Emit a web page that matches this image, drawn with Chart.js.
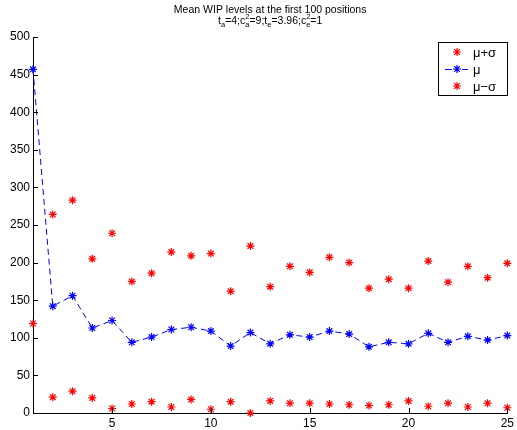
<!DOCTYPE html>
<html>
<head>
<meta charset="utf-8">
<script src="https://cdn.jsdelivr.net/npm/chart.js@4"></script>
<style>
  body { margin: 0; background: #fff; }
</style>
</head>
<body>
<canvas id="graph" width="517" height="430"></canvas>
<script>
// Data
const positions = [1, 2, 3, 4, 5, 6, 7, 8, 9, 10, 11, 12, 13, 14, 15, 16, 17, 18, 19, 20, 21, 22, 23, 24, 25];
const meanWip = [457, 142, 156, 113, 123, 94, 101, 111, 114, 109, 89, 107, 92, 104, 101, 109, 105, 88, 94, 92, 106, 94, 102, 97, 103];
const upperWip = [null, 264, 283, 205, 239, 175, 186, 214, 209, 212, 162, 222, 168, 195, 187, 207, 200, 166, 178, 166, 202, 174, 195, 180, 199];
const lowerWip = [119, 21, 29, 20, 6, 12, 15, 8, 18, 5, 15, 0, 16, 13, 13, 12, 11, 10, 11, 16, 9, 13, 8, 13, 7];
const xTicks = [5, 10, 15, 20, 25];
const yTicks = [0, 50, 100, 150, 200, 250, 300, 350, 400, 450, 500];

const toPoints = arr => positions.map((p, i) => ({ x: p, y: arr[i] }));

const FONT = 'Arial, "Liberation Sans", Helvetica, sans-serif';

// Title with sub/superscripts
const titlePlugin = {
  id: 'matlabTitle',
  afterDraw(chart) {
    const ctx = chart.ctx;
    const cx = (chart.chartArea.left + chart.chartArea.right) / 2;
    ctx.save();
    ctx.fillStyle = '#000';
    ctx.textBaseline = 'alphabetic';
    ctx.font = '10.5px ' + FONT;
    ctx.textAlign = 'center';
    ctx.fillText('Mean WIP levels at the first 100 positions', cx, 13);

    const parts = [
      ['t'], ['a', 'sub'], ['=4;c'], ['2', 'both', 'a'], ['=9;t'], ['e', 'sub'],
      ['=3.96;c'], ['2', 'both', 'e'], ['=1']
    ];
    const big = '10.5px ' + FONT, small = '7.5px ' + FONT;
    const widthOf = p => {
      if (!p[1]) { ctx.font = big; return ctx.measureText(p[0]).width; }
      ctx.font = small;
      if (p[1] === 'both') return Math.max(ctx.measureText(p[0]).width, ctx.measureText(p[2]).width);
      return ctx.measureText(p[0]).width;
    };
    const total = parts.reduce((s, p) => s + widthOf(p), 0);
    let x = cx - total / 2;
    const base = 24;
    ctx.textAlign = 'left';
    parts.forEach(p => {
      const w = widthOf(p);
      if (!p[1]) {
        ctx.font = big;
        ctx.fillText(p[0], x, base);
      } else if (p[1] === 'sub') {
        ctx.font = small;
        ctx.fillText(p[0], x, base + 3);
      } else {
        ctx.font = small;
        ctx.fillText(p[0], x, base - 5);
        ctx.fillText(p[2], x, base + 3);
      }
      x += w;
    });
    ctx.restore();
  }
};

// Inward tick marks and boxed legend
const axisPlugin = {
  id: 'matlabAxes',
  afterDraw(chart) {
    const ctx = chart.ctx;
    const { left, bottom } = chart.chartArea;
    const xs = chart.scales.x, ys = chart.scales.y;
    ctx.save();
    ctx.strokeStyle = '#000';
    ctx.lineWidth = 1;
    ctx.beginPath();
    yTicks.forEach(v => {
      const y = Math.round(ys.getPixelForValue(v)) + 0.5;
      ctx.moveTo(left, y);
      ctx.lineTo(left + 5, y);
    });
    xTicks.forEach(v => {
      const x = Math.round(xs.getPixelForValue(v)) + 0.5;
      ctx.moveTo(x, bottom);
      ctx.lineTo(x, bottom - 5);
    });
    ctx.stroke();

    // legend
    const bx = 438.5, by = 42.5, bw = 69, bh = 53;
    ctx.fillStyle = '#fff';
    ctx.fillRect(bx, by, bw, bh);
    ctx.strokeRect(bx, by, bw, bh);
    const rows = [52, 69, 86];
    ctx.font = '13px ' + FONT;
    ctx.textBaseline = 'middle';
    ctx.textAlign = 'left';
    chart.data.datasets.forEach((ds, i) => {
      const y = rows[i];
      if (ds.showLine) {
        ctx.save();
        ctx.strokeStyle = ds.borderColor;
        ctx.lineWidth = 1;
        ctx.beginPath();
        ctx.moveTo(445, y + 0.5);
        ctx.lineTo(452, y + 0.5);
        ctx.moveTo(462, y + 0.5);
        ctx.lineTo(468, y + 0.5);
        ctx.stroke();
        ctx.restore();
      }
      ctx.save();
      ctx.lineWidth = 1.2;
      ctx.strokeStyle = ds.pointBorderColor;
      Chart.helpers.drawPoint(ctx, { pointStyle: 'star', radius: 4, borderWidth: 1.2 }, 457, y);
      ctx.restore();
      ctx.fillStyle = '#000';
      ctx.fillText(ds.label, 473, y + 1);
    });
    ctx.restore();
  }
};

const ctx = document.getElementById('graph').getContext('2d');
const chart = new Chart(ctx, {
  type: 'line',
  data: {
    datasets: [{
      label: 'μ+σ',
      data: toPoints(upperWip),
      showLine: false,
      clip: false,
      borderColor: '#ff0000',
      pointStyle: 'star',
      pointRadius: 4,
      pointBorderWidth: 1.2,
      pointBorderColor: '#ff0000'
    }, {
      label: 'μ',
      data: toPoints(meanWip),
      showLine: true,
      clip: false,
      borderColor: '#0000ff',
      borderWidth: 1,
      borderDash: [6, 4],
      pointStyle: 'star',
      pointRadius: 4,
      pointBorderWidth: 1.2,
      pointBorderColor: '#0000ff'
    }, {
      label: 'μ−σ',
      data: toPoints(lowerWip),
      showLine: false,
      clip: false,
      borderColor: '#ff0000',
      pointStyle: 'star',
      pointRadius: 4,
      pointBorderWidth: 1.2,
      pointBorderColor: '#ff0000'
    }]
  },
  options: {
    responsive: false,
    animation: false,
    devicePixelRatio: 1,
    layout: { padding: { top: 37, right: 6, left: 0, bottom: 0 } },
    scales: {
      x: {
        type: 'linear',
        min: 1,
        max: 25,
        afterBuildTicks: scale => { scale.ticks = xTicks.map(v => ({ value: v })); },
        afterFit: scale => { scale.height = 17; },
        grid: { display: true, drawOnChartArea: false, drawTicks: false },
        border: { display: true, color: '#000', width: 1 },
        ticks: { color: '#000', font: { size: 12, family: FONT }, padding: 3, maxRotation: 0 }
      },
      y: {
        min: 0,
        max: 500,
        afterBuildTicks: scale => { scale.ticks = yTicks.map(v => ({ value: v })); },
        afterFit: scale => { scale.width = 33; },
        grid: { display: true, drawOnChartArea: false, drawTicks: false },
        border: { display: true, color: '#000', width: 1 },
        ticks: { color: '#000', font: { size: 12, family: FONT }, padding: 3 }
      }
    },
    plugins: {
      legend: { display: false },
      title: { display: false },
      tooltip: { enabled: false }
    }
  },
  plugins: [titlePlugin, axisPlugin]
});
</script>
</body>
</html>
